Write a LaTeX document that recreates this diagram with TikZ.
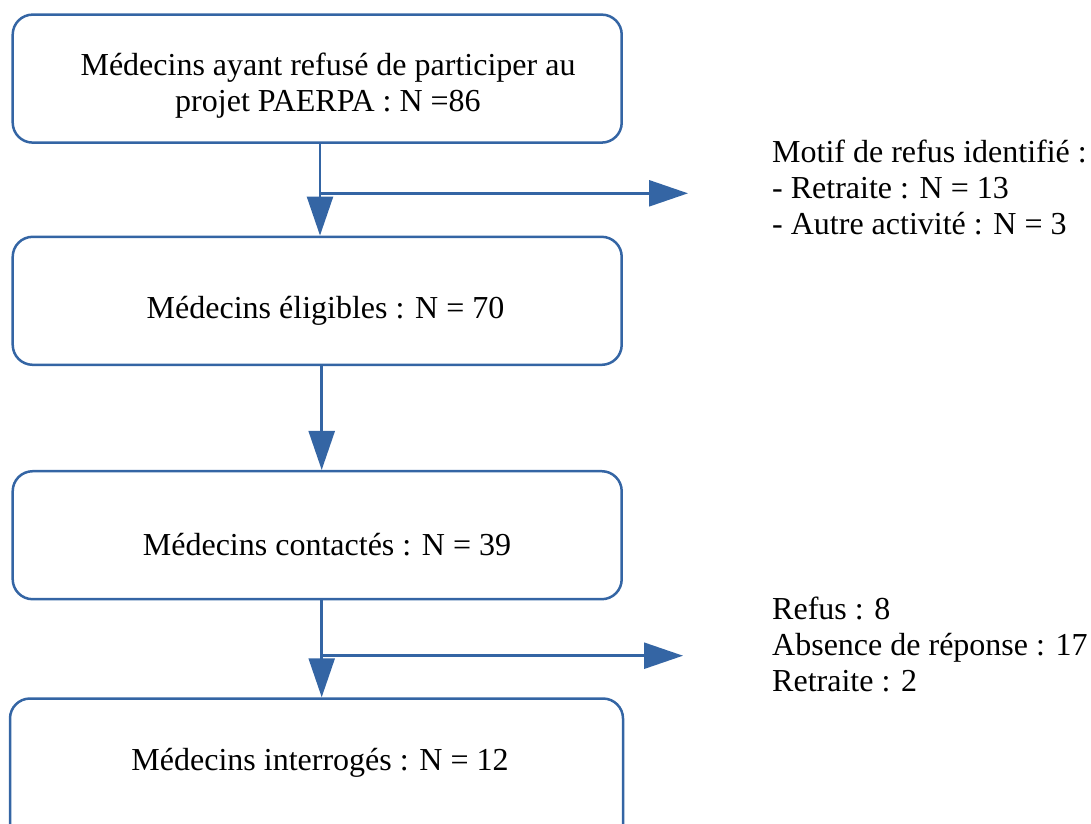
\documentclass[tikz,border=0pt]{standalone}
\usepackage{fontspec}
\setmainfont{Liberation Serif}
\usetikzlibrary{arrows.meta}
\definecolor{flowblue}{RGB}{52,101,164}
\begin{document}
\begin{tikzpicture}[x=1pt,y=-1pt,
  box/.style={draw=flowblue,line width=2.5pt,rounded corners=20pt,minimum width=609pt,minimum height=128pt,inner sep=0pt},
  lbl/.style={font=\fontsize{32}{35.8}\selectfont,align=center,inner sep=0pt},
  side/.style={font=\fontsize{32}{36}\selectfont,align=left,inner sep=0pt,anchor=west},
  arr/.style={draw=flowblue,line width=2.5pt,-{Triangle[length=39pt,width=26pt]}}]
\useasboundingbox (0,0) rectangle (1091,823);
\clip (0,0) rectangle (1091,823);
% boxes
\node[box] (b1) at (317.2,78.6) {};
\node[box] (b2) at (317.2,300.8) {};
\node[box] (b3) at (317.2,535.2) {};
\node[box,minimum width=613pt,minimum height=150pt] (b4) at (316.5,773.5) {};
% box texts
\node[lbl] (t1) at (328,85.5) {Médecins ayant refusé de participer au\\projet PAERPA : N =86};
\node[lbl] (t2) at (325.5,310.5) {Médecins éligibles : N = 70};
\node[lbl] (t3) at (327,544.5) {Médecins contactés : N = 39};
\node[lbl] (t4) at (320,763) {Médecins interrogés : N = 12};
% side texts
\node[side] (s1) at (772,187.5) {Motif de refus identifié :\\- Retraite : N = 13\\- Autre activité : N = 3};
\node[side] (s2) at (772,644.5) {Refus : 8\\Absence de réponse : 17\\Retraite : 2};
% junctions and free ends
\coordinate (j1) at (320,193.3);
\coordinate (e1) at (688,193.3);
\coordinate (j2) at (321.7,655.7);
\coordinate (e2) at (683,655.7);
\coordinate (j3) at (321.7,420);
% connectors
\draw[arr] (b1.south -| j1) -- (b2.north -| j1);
\draw[arr] (j1) -- (e1);
\draw[arr] (b2.south -| j3) -- (b3.north -| j3);
\draw[arr] (b3.south -| j2) -- (b4.north -| j2);
\draw[arr] (j2) -- (e2);
\end{tikzpicture}
\end{document}
